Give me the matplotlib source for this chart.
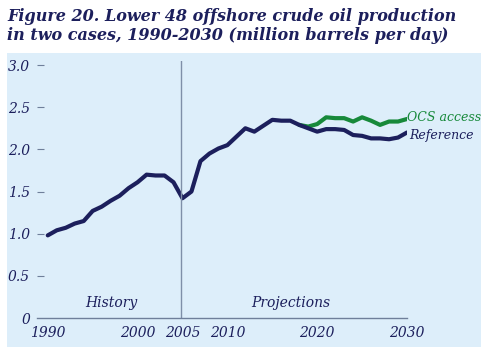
import matplotlib.pyplot as plt
from matplotlib.patches import Rectangle

years = list(range(1990, 2031))
reference = [0.98, 1.04, 1.07, 1.12, 1.15, 1.27, 1.32, 1.39, 1.45, 1.54,
             1.61, 1.70, 1.69, 1.69, 1.61, 1.42, 1.50, 1.86, 1.95, 2.01,
             2.05, 2.15, 2.25, 2.21, 2.28, 2.35, 2.34, 2.34, 2.29, 2.25,
             2.21, 2.24, 2.24, 2.23, 2.17, 2.16, 2.13, 2.13, 2.12, 2.14,
             2.20]
ocs_years = list(range(2018, 2031))
ocs_access = [2.29, 2.27, 2.30, 2.38, 2.37, 2.37, 2.33, 2.38, 2.34, 2.29,
              2.33, 2.33, 2.36]

navy = '#1c1f5c'
green = '#17893a'
bg = '#ddeefa'
font = 'DejaVu Serif'

fig = plt.figure(figsize=(5, 3.59), dpi=100)
fig.patches.append(Rectangle((0.014, 0.034), 0.948, 0.819, transform=fig.transFigure,
                             facecolor=bg, edgecolor='none', zorder=-5))
fig.text(0.014, 0.978, 'Figure 20. Lower 48 offshore crude oil production\nin two cases, 1990-2030 (million barrels per day)',
         ha='left', va='top', fontsize=11.5, fontweight='bold', fontstyle='italic',
         family=font, color=navy, linespacing=1.15)

ax = fig.add_axes([0.074, 0.1142, 0.74, 0.7164])
ax.set_facecolor('none')
ax.plot(ocs_years, ocs_access, color=green, lw=3, solid_capstyle='round', solid_joinstyle='round')
ax.plot(years, reference, color=navy, lw=3, solid_capstyle='round', solid_joinstyle='round')
ax.axvline(2004.8, ymin=0, ymax=1, color='#7f8fa8', lw=1)

ax.set_xlim(1988.8, 2030)
ax.set_ylim(0, 3.05)
for s in ['top', 'right', 'left']:
    ax.spines[s].set_visible(False)
ax.spines['bottom'].set_color('#6f7f9a')
ax.spines['bottom'].set_linewidth(1)

ax.set_xticks([1990, 2000, 2005, 2010, 2020, 2030])
ax.set_xticklabels(['1990', '2000', '2005', '2010', '2020', '2030'])
ax.set_yticks([0, 0.5, 1.0, 1.5, 2.0, 2.5, 3.0])
ax.set_yticklabels(['0', '0.5', '1.0', '1.5', '2.0', '2.5', '3.0'])
ax.tick_params(axis='x', length=0, pad=6)
ax.tick_params(axis='y', direction='in', length=5, color='#6f7f9a', pad=5)
for lab in ax.get_xticklabels() + ax.get_yticklabels():
    lab.set_fontstyle('italic')
    lab.set_family(font)
    lab.set_fontsize(10)
    lab.set_color(navy)
ax.yaxis.get_major_ticks()[0].tick1line.set_visible(False)

ax.text(1997.1, 0.1, 'History', ha='center', va='bottom', fontsize=10,
        fontstyle='italic', family=font, color=navy)
ax.text(2017.1, 0.1, 'Projections', ha='center', va='bottom', fontsize=10,
        fontstyle='italic', family=font, color=navy)
ax.text(2030.0, ocs_access[-1] + 0.02, 'OCS access', ha='left', va='center', fontsize=9,
        fontstyle='italic', family=font, color=green, clip_on=False)
ax.text(2030.2, reference[-1] - 0.03, 'Reference', ha='left', va='center', fontsize=9,
        fontstyle='italic', family=font, color=navy, clip_on=False)

fig.savefig('out.png', dpi=100)
